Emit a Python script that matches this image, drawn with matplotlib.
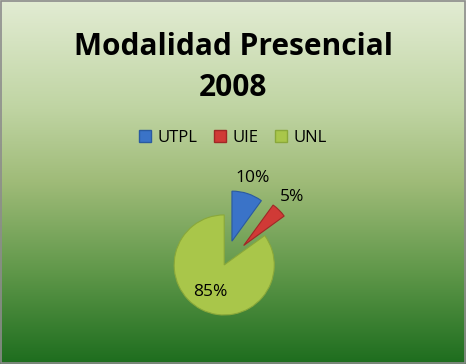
import matplotlib
matplotlib.use("Agg")
import matplotlib.pyplot as plt
import numpy as np
from matplotlib.colors import LinearSegmentedColormap
from matplotlib.patches import Rectangle

# Data
categories = ["UTPL", "UIE", "UNL"]
values = [10, 5, 85]
labels = ["10%", "5%", "85%"]
colors = ["#3a73c8", "#d03a36", "#a9c64a"]
edge_colors = ["#2a5aa0", "#a02826", "#8aa83a"]

plt.rcParams['font.family'] = ['Open Sans', 'DejaVu Sans']

fig = plt.figure(figsize=(4.66, 3.64), dpi=100)

# Gradient background
bg = fig.add_axes([0, 0, 1, 1], zorder=0)
cmap = LinearSegmentedColormap.from_list(
    "bg", [(0.0, "#e2ecd3"), (0.3, "#bfd4a2"), (0.5, "#9fbb78"),
           (0.75, "#5f9749"), (1.0, "#1d6d1e")])
grad = np.linspace(0, 1, 256).reshape(-1, 1)
bg.imshow(grad, aspect="auto", cmap=cmap, extent=[0, 1, 0, 1], origin="upper")
bg.add_patch(Rectangle((0.002, 0.003), 0.995, 0.993, fill=False,
                       edgecolor="#8c8c8c", lw=1.2, transform=bg.transAxes))
bg.set_axis_off()

# Title
fig.text(0.5, 0.87, "Modalidad Presencial", ha="center", va="center",
         fontsize=21.5, fontweight="bold", color="black")
fig.text(0.5, 0.757, "2008", ha="center", va="center",
         fontsize=21.5, fontweight="bold", color="black")

# Pie
ax = fig.add_axes([0.363, 0.121, 0.29, 0.371], zorder=1)
ax.set_facecolor("none")
wedges, _ = ax.pie(values, colors=colors, startangle=90, counterclock=False,
                   explode=[0.5, 0.55, 0.0], radius=1.0,
                   wedgeprops=dict(linewidth=0.8))
for w, ec in zip(wedges, edge_colors):
    w.set_edgecolor(ec)
ax.set_xlim(-1.1, 1.6)
ax.set_ylim(-1.1, 1.6)
ax.set_aspect("auto")

# Percent labels placed along each wedge's middle angle
label_r = [1.83, 1.92, 0.6]
angle = 90.0
for v, lab, r in zip(values, labels, label_r):
    theta = angle - v * 3.6 / 2
    angle -= v * 3.6
    t = np.deg2rad(theta)
    ax.text(r * np.cos(t), r * np.sin(t), lab, ha="center", va="center",
            fontsize=12.5, color="black")

# Legend
handles = [Rectangle((0, 0), 1, 1, facecolor=c, edgecolor=e)
           for c, e in zip(colors, edge_colors)]
fig.legend(handles, categories, loc="center", bbox_to_anchor=(0.5, 0.622),
           ncol=3, frameon=False, fontsize=12, handlelength=0.7,
           handleheight=0.7, handletextpad=0.4, columnspacing=1.0)

fig.savefig("out.png", dpi=100)
